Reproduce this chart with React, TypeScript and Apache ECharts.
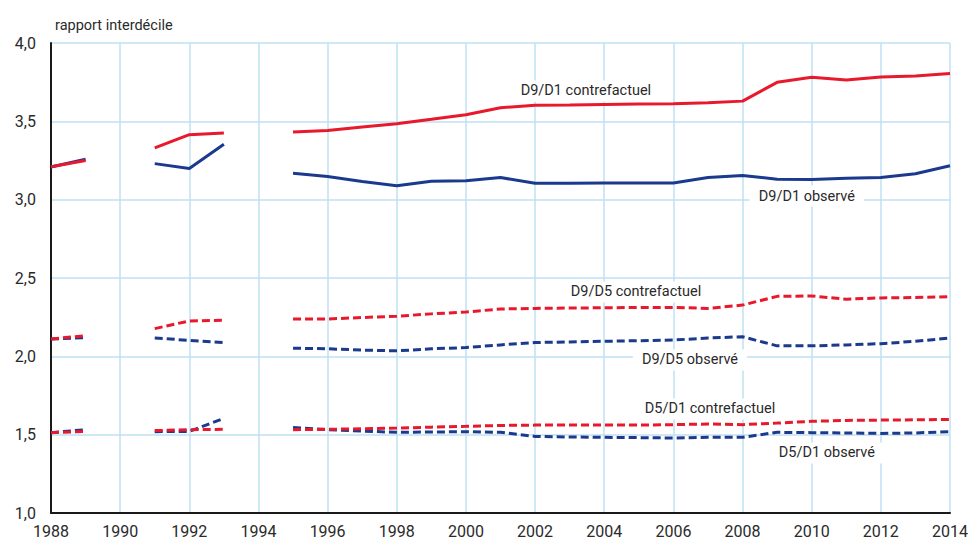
import React, { useEffect, useRef } from 'react';
import * as echarts from 'echarts';

const years = [1988, 1989, 1990, 1991, 1992, 1993, 1994, 1995, 1996, 1997, 1998, 1999, 2000, 2001, 2002, 2003, 2004, 2005, 2006, 2007, 2008, 2009, 2010, 2011, 2012, 2013, 2014];

const d9d1Contre = [3.21, 3.25, null, 3.33, 3.415, 3.425, null, 3.432, 3.441, 3.464, 3.485, 3.513, 3.542, 3.587, 3.603, 3.605, 3.608, 3.61, 3.612, 3.618, 3.629, 3.749, 3.781, 3.764, 3.783, 3.789, 3.806];
const d9d1Obs = [3.209, 3.258, null, 3.23, 3.199, 3.354, null, 3.169, 3.148, 3.116, 3.089, 3.118, 3.12, 3.141, 3.105, 3.105, 3.107, 3.107, 3.107, 3.141, 3.154, 3.131, 3.129, 3.137, 3.141, 3.165, 3.217];
const d9d5Contre = [2.111, 2.132, null, 2.177, 2.226, 2.23, null, 2.238, 2.238, 2.248, 2.256, 2.271, 2.283, 2.302, 2.306, 2.308, 2.31, 2.312, 2.312, 2.306, 2.327, 2.383, 2.385, 2.365, 2.373, 2.375, 2.381];
const d9d5Obs = [2.111, 2.119, null, 2.117, 2.102, 2.087, null, 2.052, 2.048, 2.04, 2.035, 2.048, 2.056, 2.073, 2.088, 2.092, 2.096, 2.1, 2.104, 2.117, 2.125, 2.067, 2.067, 2.073, 2.081, 2.096, 2.117];
const d5d1Contre = [1.513, 1.521, null, 1.526, 1.532, 1.534, null, 1.532, 1.534, 1.538, 1.542, 1.548, 1.553, 1.559, 1.561, 1.561, 1.561, 1.561, 1.564, 1.568, 1.564, 1.574, 1.585, 1.591, 1.593, 1.595, 1.597];
const d5d1Obs = [1.513, 1.532, null, 1.519, 1.521, 1.604, null, 1.545, 1.532, 1.523, 1.515, 1.517, 1.519, 1.515, 1.489, 1.485, 1.483, 1.481, 1.479, 1.483, 1.483, 1.515, 1.513, 1.511, 1.508, 1.511, 1.519];

const seriesNames = ['D9/D1 contrefactuel', 'D9/D1 observé', 'D9/D5 contrefactuel', 'D9/D5 observé', 'D5/D1 contrefactuel', 'D5/D1 observé'];
// label anchor positions [year, value]
const labelPos: [number, number][] = [
  [2003.47, 3.694],
  [2009.86, 3.023],
  [2004.92, 2.411],
  [2006.48, 1.977],
  [2007.06, 1.664],
  [2010.44, 1.383],
];

const yTitle = 'rapport interdécile';

const RED = '#e8192c';
const BLUE = '#1b3a8e';
const GRID = '#bfe0f3';
const TEXT = '#2a2a2a';
const FONT = "Roboto, 'Liberation Sans Narrow', sans-serif";

export default function App() {
  const ref = useRef<HTMLDivElement>(null);
  useEffect(() => {
    if (!ref.current) return;
    const chart = echarts.init(ref.current, null, { renderer: 'svg' });
    const valsList = [d9d1Contre, d9d1Obs, d9d5Contre, d9d5Obs, d5d1Contre, d5d1Obs];
    const mk = (idx: number) => {
      const vals = valsList[idx];
      const isRed = idx % 2 === 0;
      const dashed = idx >= 2;
      return {
        type: 'line',
        name: seriesNames[idx],
        data: years.map((y, i) => [y, vals[i] == null ? '-' : vals[i]]),
        showSymbol: false,
        symbol: 'none',
        connectNulls: false,
        z: isRed ? 3 : 2,
        lineStyle: {
          color: isRed ? RED : BLUE,
          width: 3,
          type: dashed ? [8, 4] : 'solid',
          cap: 'butt',
        },
        markPoint: {
          symbol: 'rect',
          symbolSize: 1,
          silent: true,
          itemStyle: { color: 'rgba(0,0,0,0)' },
          data: [{ name: seriesNames[idx], coord: labelPos[idx] }],
          label: {
            show: true,
            position: 'inside',
            formatter: '{b}',
            color: TEXT,
            fontSize: 14.5,
            fontFamily: FONT,
            backgroundColor: '#ffffff',
            padding: [3, 9, 3, 9],
          },
        },
      };
    };
    chart.setOption({
      animation: false,
      backgroundColor: '#ffffff',
      title: {
        text: yTitle,
        left: 50,
        top: 13,
        textStyle: { color: TEXT, fontSize: 14.5, fontWeight: 'normal', fontFamily: FONT },
      },
      grid: { left: 51, right: 23, top: 43, bottom: 29, containLabel: false },
      xAxis: {
        type: 'value',
        min: 1988,
        max: 2014,
        interval: 2,
        axisLine: { show: true, lineStyle: { color: '#1a1a1a', width: 2 } },
        axisTick: { show: false },
        axisLabel: { color: TEXT, fontSize: 16, fontFamily: FONT, margin: 10, formatter: (v: number) => String(v) },
        splitLine: { show: true, lineStyle: { color: GRID, width: 1.5 } },
      },
      yAxis: {
        type: 'value',
        min: 1,
        max: 4,
        interval: 0.5,
        axisLine: { show: true, lineStyle: { color: '#1a1a1a', width: 2 } },
        axisTick: { show: false },
        axisLabel: {
          color: TEXT,
          fontSize: 16,
          fontFamily: FONT,
          margin: 15,
          formatter: (v: number) => v.toFixed(1).replace('.', ','),
        },
        splitLine: { show: true, lineStyle: { color: GRID, width: 1.5 } },
      },
      series: [1, 0, 3, 2, 5, 4].map(mk),
    });
    return () => chart.dispose();
  }, []);
  return <div ref={ref} style={{ position: 'fixed', left: 0, top: 0, width: 973, height: 542 }} />;
}
